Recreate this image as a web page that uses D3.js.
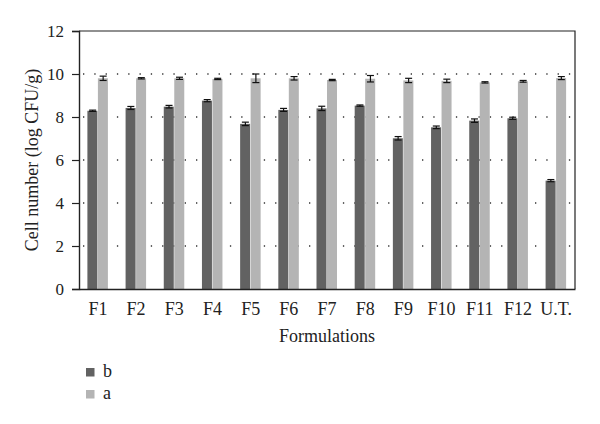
<!DOCTYPE html>
<html lang="en">
<head>
<meta charset="UTF-8">
<title>Cell number</title>
<style>
    body { margin: 0; background: #fff; }
    text { font-family: "Liberation Serif", "DejaVu Serif", serif; fill: #222; }
</style>
</head>
<body>
<script src="https://d3js.org/d3.v7.min.js"></script>
<script>
    var categories = ["F1", "F2", "F3", "F4", "F5", "F6", "F7", "F8", "F9", "F10", "F11", "F12", "U.T."];
    var seriesNames = ["b", "a"];
    var valuesB = [8.29, 8.42, 8.48, 8.76, 7.68, 8.33, 8.40, 8.53, 7.01, 7.52, 7.83, 7.94, 5.04];
    var errorsB = [0.03, 0.07, 0.06, 0.05, 0.08, 0.07, 0.10, 0.03, 0.08, 0.06, 0.08, 0.05, 0.05];
    var valuesA = [9.80, 9.80, 9.80, 9.77, 9.80, 9.80, 9.72, 9.78, 9.70, 9.68, 9.61, 9.66, 9.81];
    var errorsA = [0.10, 0.03, 0.05, 0.03, 0.20, 0.08, 0.03, 0.15, 0.10, 0.08, 0.03, 0.04, 0.07];
    var yTicks = [0, 2, 4, 6, 8, 10, 12];

    var width = 600, height = 424;
    var pLeft = 79, pRight = 575, pTop = 31, pBottom = 289;
    var colors = ["#626262", "#b4b4b4"];

    var svg = d3.select("body").append("svg")
        .attr("width", width)
        .attr("height", height);

    var x = d3.scaleBand().domain(categories).range([pLeft, pRight]).paddingInner(0.45).paddingOuter(0.22);
    var xs = d3.scaleBand().domain(seriesNames).range([0, x.bandwidth()]).padding(0);
    var y = d3.scaleLinear().domain([0, 12]).range([pBottom, pTop]);

    /* grid lines */
    svg.selectAll(".grid")
        .data(yTicks.filter(function (d) { return d > 0 && d < 12; }))
        .enter()
        .append("line")
        .attr("x1", pLeft + 4)
        .attr("x2", pRight)
        .attr("y1", function (d) { return y(d); })
        .attr("y2", function (d) { return y(d); })
        .attr("stroke", "#333")
        .attr("stroke-width", 1.3)
        .attr("stroke-dasharray", "1.3 10");

    /* bars */
    var series = [
        {name: "b", values: valuesB, errors: errorsB},
        {name: "a", values: valuesA, errors: errorsA}
    ];

    series.forEach(function (s, k) {
        var g = svg.append("g");
        g.selectAll("rect")
            .data(categories)
            .enter()
            .append("rect")
            .attr("x", function (d) { return x(d) + xs(s.name); })
            .attr("width", xs.bandwidth() - 0.5)
            .attr("y", function (d, i) { return y(s.values[i]); })
            .attr("height", function (d, i) { return pBottom - y(s.values[i]); })
            .attr("fill", colors[k]);

        var eb = g.selectAll(".eb")
            .data(categories)
            .enter()
            .append("g")
            .attr("transform", function (d) {
                return "translate(" + (x(d) + xs(s.name) + xs.bandwidth() / 2) + ",0)";
            });
        eb.append("line")
            .attr("x1", 0).attr("x2", 0)
            .attr("y1", function (d, i) { return y(s.values[i] + s.errors[i]); })
            .attr("y2", function (d, i) { return y(s.values[i] - s.errors[i]); })
            .attr("stroke", "#111").attr("stroke-width", 1.2);
        [1, -1].forEach(function (sign) {
            eb.append("line")
                .attr("x1", -3.5).attr("x2", 3.5)
                .attr("y1", function (d, i) { return y(s.values[i] + sign * s.errors[i]); })
                .attr("y2", function (d, i) { return y(s.values[i] + sign * s.errors[i]); })
                .attr("stroke", "#111").attr("stroke-width", 1.2);
        });
    });

    /* frame */
    svg.append("path")
        .attr("d", "M" + pLeft + "," + pTop + "H" + pRight + "V" + pBottom)
        .attr("fill", "none")
        .attr("stroke", "#222")
        .attr("stroke-width", 1.2);

    /* axes */
    var yAxis = svg.append("g")
        .attr("transform", "translate(" + pLeft + ",0)")
        .call(d3.axisLeft(y).tickValues(yTicks).tickSize(7).tickPadding(8));
    yAxis.select(".domain").attr("stroke", "#222").attr("stroke-width", 1.4);
    yAxis.selectAll(".tick line").attr("stroke", "#222").attr("stroke-width", 1.2);
    yAxis.selectAll("text").attr("font-size", "17px").attr("font-family", "Liberation Serif").attr("fill", "#222");

    var xAxis = svg.append("g")
        .attr("transform", "translate(0," + pBottom + ")")
        .call(d3.axisBottom(x).tickSize(0).tickPadding(13));
    xAxis.select(".domain").attr("stroke", "#222").attr("stroke-width", 1.4);
    xAxis.selectAll("text").attr("font-size", "18px").attr("font-family", "Liberation Serif").attr("fill", "#222");

    /* titles */
    svg.append("text")
        .attr("x", (pLeft + pRight) / 2)
        .attr("y", 342)
        .attr("text-anchor", "middle")
        .attr("font-size", "18px")
        .text("Formulations");

    svg.append("text")
        .attr("transform", "translate(38," + ((pTop + pBottom) / 2) + ") rotate(-90)")
        .attr("text-anchor", "middle")
        .attr("font-size", "18px")
        .text("Cell number (log CFU/g)");

    /* legend */
    var legend = svg.selectAll(".legend")
        .data(seriesNames)
        .enter()
        .append("g")
        .attr("transform", function (d, i) { return "translate(86," + (368 + i * 22) + ")"; });
    legend.append("rect")
        .attr("width", 8.5).attr("height", 8.5)
        .attr("fill", function (d, i) { return colors[i]; });
    legend.append("text")
        .attr("x", 17).attr("y", 9)
        .attr("font-size", "18px")
        .text(function (d) { return d; });
</script>
</body>
</html>
